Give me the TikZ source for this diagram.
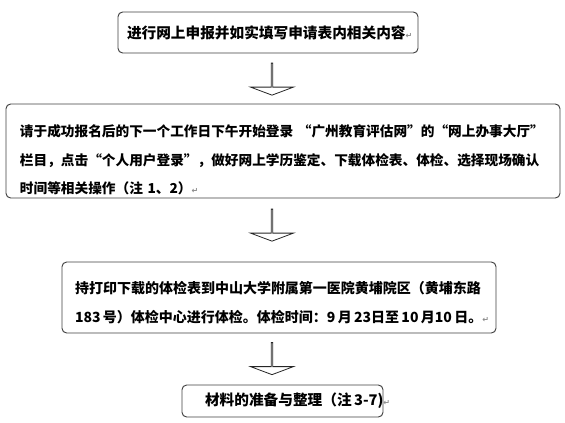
\documentclass[tikz,border=0pt]{standalone}
\usepackage{fontspec}
\setmainfont{Noto Sans CJK SC}
\newfontfamily\symfont{DejaVu Sans}
\usetikzlibrary{shapes.arrows}

\newcommand{\parmark}{{\symfont\fontsize{6}{6}\selectfont\color{black!45}↵}}

\begin{document}
\begin{tikzpicture}[x=0.75pt, y=-0.75pt,
  box/.style={draw=black!75, line width=0.7pt, rounded corners=3.5pt, fill=white,
              align=left, inner ysep=0pt},
  downarr/.style={single arrow, draw=black!85, line width=0.6pt, fill=white,
                  shape border rotate=270, minimum height=24pt, minimum width=32.25pt,
                  single arrow head extend=8.6pt, single arrow tip angle=139, inner sep=0pt},
]
\useasboundingbox (0,0) rectangle (565,422);

\node[box, minimum width=225pt, minimum height=30.75pt, inner xsep=6.75pt, text width=211.5pt,
      font=\bfseries\fontsize{11}{14}\selectfont] (apply) at (268,32.5)
  {进行网上申报并如实填写申请表内相关内容\parmark};

\node[box, minimum width=415.5pt, minimum height=70.5pt, inner xsep=10.5pt, text width=394.5pt,
      font=\bfseries\fontsize{10.25}{21.4}\selectfont] (login) at (283,151)
  {\rule{0pt}{22.5pt}请于成功报名后的下一个工作日下午开始登录~“广州教育评估网”的“网上办事大厅”\\
   栏目，点击“个人用户登录”，做好网上学历鉴定、下载体检表、体检、选择现场确认\\
   时间等相关操作（注~1、2）\parmark};

\node[box, minimum width=325.5pt, minimum height=53.25pt, inner xsep=9.75pt, text width=306pt,
      font=\bfseries\fontsize{10.5}{21.75}\selectfont] (exam) at (279,297.5)
  {\rule{0pt}{16.5pt}持打印下载的体检表到中山大学附属第一医院黄埔院区（黄埔东路\\
   183\,号）体检中心进行体检。体检时间：9\,月\,23日至\,10\,月10\,日。\parmark};

\node[box, minimum width=150.75pt, minimum height=24pt, inner xsep=17.25pt, text width=116.25pt,
      font=\bfseries\fontsize{11}{14}\selectfont] (docs) at (282.5,401)
  {\mbox{材料的准备与整理（注\,3-7)\parmark}};

\node[downarr] (a1) at (272,79) {};
\node[downarr] (a2) at (272,225) {};
\node[downarr] (a3) at (272,358.5) {};
\end{tikzpicture}
\end{document}
